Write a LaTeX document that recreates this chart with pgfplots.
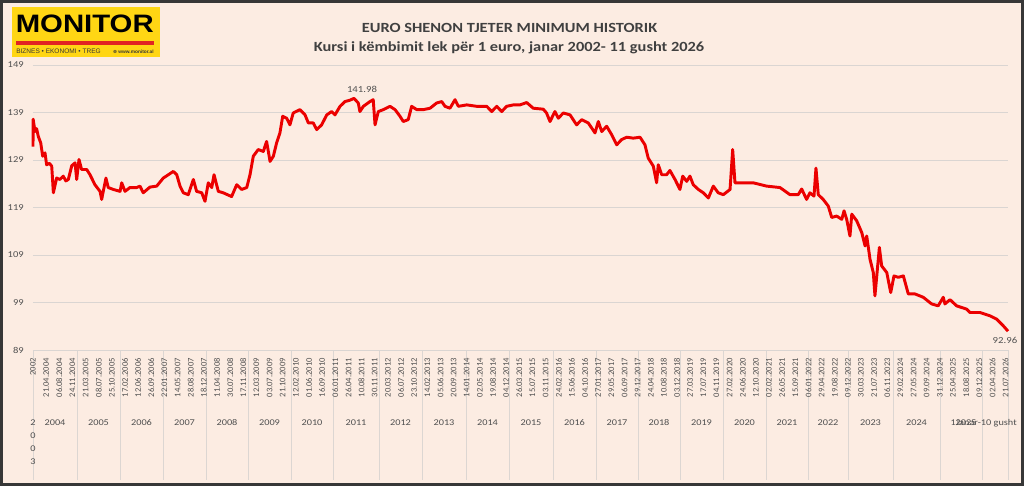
\documentclass[border=0pt]{standalone}
\usepackage{fontspec}
\usepackage{graphicx}
\usepackage{pgfplots}
\pgfplotsset{compat=1.18}
\setmainfont{Carlito}
\newfontfamily\wide{Carlito}[FakeStretch=1.17]
\newfontfamily\logofont{Liberation Sans}
\newfontfamily\dejavu{DejaVu Sans}
\definecolor{bgc}{RGB}{252,236,226}
\definecolor{borderc}{RGB}{55,55,55}
\definecolor{gridc}{RGB}{218,213,210}
\definecolor{sepc}{RGB}{220,214,210}
\definecolor{txt}{RGB}{80,80,80}
\definecolor{titc}{RGB}{64,64,64}
\definecolor{linec}{RGB}{235,0,0}
\definecolor{logoy}{RGB}{255,214,20}
\definecolor{logor}{RGB}{225,35,35}
\begin{document}
\begin{tikzpicture}[x=0.75pt,y=0.75pt]
\fill[bgc] (0,0) rectangle (1024,486);
\draw[borderc,line width=2.25pt] (1.5,1.5) rectangle (1022.5,484.5);
% logo
\fill[logoy] (11.7,428.7) rectangle (160,478.7);
\node[anchor=base west,inner sep=0pt,font=\logofont\bfseries\fontsize{18.9}{19}\selectfont] at (15.5,453) {\scalebox{1.164}[1]{MONITOR}};
\fill[logor] (16,441) rectangle (154,445);
\node[anchor=base west,inner sep=0pt,text=borderc,font=\logofont\fontsize{4.9}{5}\selectfont] at (16,432.5) {BIZNES • EKONOMI • TREG};
\node[anchor=base east,inner sep=0pt,text=borderc,font=\logofont\bfseries\fontsize{3.6}{4}\selectfont] at (154,432.5) {{\dejavu ⊕}\ www.monitor.al};
% titles
\node[anchor=base,inner sep=0pt,text=titc,font=\wide\bfseries\fontsize{10.5}{12}\selectfont] at (509.5,453.7) {EURO SHENON TJETER MINIMUM HISTORIK};
\node[anchor=base,inner sep=0pt,text=titc,font=\wide\bfseries\fontsize{10.5}{12}\selectfont] at (509,434.3) {Kursi i këmbimit lek për 1 euro, janar 2002- 11 gusht 2026};
% year separators below the axis
\foreach \sx in {33,77,120,163,206,248,291,333,379,422,466,509,553,596,638,680,723,766,808,848,893,940,982,1008}
  \draw[sepc,line width=0.75pt] (\sx,136) -- (\sx,6);
\begin{axis}[
  at={(24.75pt,102pt)}, anchor=south west, scale only axis,
  width=731.25pt, height=213.75pt,
  xmin=0, xmax=5935, ymin=89, ymax=149,
  axis line style={draw=none},
  tick pos=left,
  major tick length=0pt,
  ytick={89,99,...,149},
  ymajorgrids,
  major grid style={draw=gridc,line width=0.75pt},
  xtick={0,80,...,5920},
  xticklabels={2002, 21.04.2004, 06.08.2004, 24.11.2004, 21.03.2005, 08.07.2005, 25.10.2005, 17.02.2006, 12.06.2006, 26.09.2006, 22.01.2007, 14.05.2007, 28.08.2007, 18.12.2007, 11.04.2008, 30.07.2008, 17.11.2008, 12.03.2009, 03.07.2009, 21.10.2009, 12.02.2010, 01.06.2010, 16.09.2010, 06.01.2011, 26.04.2011, 10.08.2011, 30.11.2011, 20.03.2012, 06.07.2012, 23.10.2012, 14.02.2013, 05.06.2013, 20.09.2013, 14.01.2014, 02.05.2014, 19.08.2014, 04.12.2014, 26.03.2015, 15.07.2015, 03.11.2015, 24.02.2016, 15.06.2016, 04.10.2016, 27.01.2017, 29.05.2017, 06.09.2017, 29.12.2017, 24.04.2018, 10.08.2018, 03.12.2018, 27.03.2019, 17.07.2019, 04.11.2019, 27.02.2020, 24.06.2020, 12.10.2020, 02.02.2021, 26.05.2021, 15.09.2021, 06.01.2022, 29.04.2022, 19.08.2022, 09.12.2022, 30.03.2023, 21.07.2023, 06.11.2023, 29.02.2024, 27.05.2024, 09.09.2024, 31.12.2024, 25.04.2025, 18.08.2025, 09.12.2025, 02.04.2026, 21.07.2026},
  x tick label style={rotate=90,anchor=east,inner xsep=6pt,inner ysep=0pt,text=txt,font=\fontsize{6.4}{7}\selectfont},
  y tick label style={anchor=east,inner sep=0pt,xshift=-6.75pt,text=txt,font=\wide\fontsize{6.75}{8}\selectfont},
  /pgf/number format/assume math mode=true,
  clip=false,
]
\addplot[linec,line width=2.2pt,line join=round] coordinates {
(0,131.8)(1,137.6)(12,135.0)(22,135.6)(32,134.0)(47,132.6)(59,129.8)(73,130.5)(83,128.0)(100,128.3)(114,127.7)(124,122.1)(144,125.2)(164,124.9)(184,125.6)(200,124.6)(215,124.9)(236,127.8)(256,128.4)(266,124.9)(280,129.1)(296,127.0)(327,127.0)(347,125.9)(377,123.8)(408,122.4)(418,120.7)(444,125.2)(458,123.2)(489,122.8)(530,122.4)(540,124.2)(560,122.4)(590,123.2)(631,123.2)(651,123.5)(671,122.1)(712,123.3)(753,123.5)(793,125.2)(824,125.9)(854,126.6)(875,125.9)(895,123.5)(915,122.1)(945,121.7)(976,124.9)(996,122.4)(1027,122.1)(1047,120.3)(1067,124.2)(1088,123.2)(1102,125.9)(1128,122.4)(1158,122.1)(1209,121.3)(1240,123.8)(1270,122.8)(1301,123.2)(1321,125.9)(1341,129.8)(1371,131.2)(1402,130.8)(1422,132.9)(1443,128.7)(1463,129.8)(1483,132.6)(1503,134.7)(1520,138.2)(1544,137.8)(1564,136.4)(1584,138.9)(1625,139.6)(1656,138.5)(1676,136.8)(1706,136.8)(1727,135.4)(1757,136.4)(1788,138.5)(1818,139.2)(1838,138.5)(1869,140.3)(1899,141.3)(1930,141.6)(1954,141.98)(1980,141.0)(1990,139.2)(2011,140.3)(2051,141.3)(2071,141.7)(2082,136.4)(2102,139.2)(2132,139.6)(2173,140.3)(2204,139.6)(2234,138.2)(2254,137.1)(2284,137.5)(2305,140.3)(2336,139.6)(2376,139.6)(2417,139.9)(2457,141.0)(2488,141.3)(2508,140.3)(2538,139.9)(2569,141.7)(2589,140.3)(2640,140.6)(2701,140.3)(2762,140.3)(2792,139.2)(2823,140.3)(2853,139.2)(2883,140.3)(2924,140.6)(2964,140.6)(3005,141.1)(3045,139.9)(3106,139.7)(3126,138.9)(3147,137.1)(3177,139.2)(3198,137.8)(3228,138.9)(3269,138.5)(3309,136.4)(3340,137.5)(3380,136.8)(3421,134.7)(3441,137.1)(3462,135.0)(3492,136.1)(3523,134.3)(3553,132.2)(3583,133.3)(3614,133.8)(3654,133.6)(3695,133.8)(3725,132.2)(3745,129.4)(3776,127.7)(3796,124.2)(3806,128.0)(3827,125.9)(3857,125.9)(3877,126.8)(3908,124.9)(3938,122.8)(3955,125.6)(3979,124.5)(3999,125.6)(4019,123.8)(4050,122.8)(4080,122.1)(4111,121.0)(4141,123.5)(4171,122.1)(4202,121.7)(4243,122.8)(4259,131.2)(4273,124.2)(4303,124.2)(4384,124.2)(4466,123.5)(4547,123.2)(4608,121.7)(4658,121.7)(4679,122.9)(4709,120.7)(4729,122.1)(4754,121.4)(4766,127.3)(4780,121.7)(4810,120.7)(4841,119.3)(4862,116.9)(4892,117.2)(4923,116.5)(4937,118.3)(4953,116.5)(4973,113.0)(4984,117.6)(5014,116.2)(5045,113.7)(5065,110.9)(5075,113.0)(5095,108.1)(5115,105.3)(5125,100.4)(5139,105.7)(5152,110.6)(5166,106.7)(5197,105.3)(5221,101.1)(5241,104.6)(5267,104.3)(5298,104.6)(5328,100.8)(5369,100.8)(5419,100.1)(5470,98.7)(5510,98.3)(5541,100.1)(5551,98.7)(5582,99.6)(5622,98.3)(5683,97.6)(5703,96.9)(5764,96.9)(5825,96.2)(5866,95.5)(5906,94.1)(5935,92.96)
};
\end{axis}
% data labels
\node[inner sep=0pt,text=txt,font=\wide\fontsize{6.9}{8}\selectfont] at (362,396.7) {141.98};
\node[inner sep=0pt,text=txt,font=\wide\fontsize{6.9}{8}\selectfont] at (1005,146) {92.96};
% year labels
\begin{scope}[every node/.style={anchor=base,inner sep=0pt,text=txt,font=\wide\fontsize{6.6}{8}\selectfont}]
\node at (33,61) {2}; \node at (33,48) {0}; \node at (33,35) {0}; \node at (33,22) {3};
\node at (55,61) {2004}; \node at (98.5,61) {2005}; \node at (141.5,61) {2006};
\node at (184.5,61) {2007}; \node at (227,61) {2008}; \node at (269.5,61) {2009};
\node at (312,61) {2010}; \node at (356,61) {2011}; \node at (400.5,61) {2012};
\node at (444,61) {2013}; \node at (487.5,61) {2014}; \node at (531,61) {2015};
\node at (574.5,61) {2016}; \node at (617,61) {2017}; \node at (659,61) {2018};
\node at (701.5,61) {2019}; \node at (744.5,61) {2020}; \node at (787,61) {2021};
\node at (828,61) {2022}; \node at (870.5,61) {2023}; \node at (916.5,61) {2024};
\node at (966,61) {2025};
\node[anchor=base east] at (1017,61) {1Janar-10 gusht};
\end{scope}
\end{tikzpicture}
\end{document}
